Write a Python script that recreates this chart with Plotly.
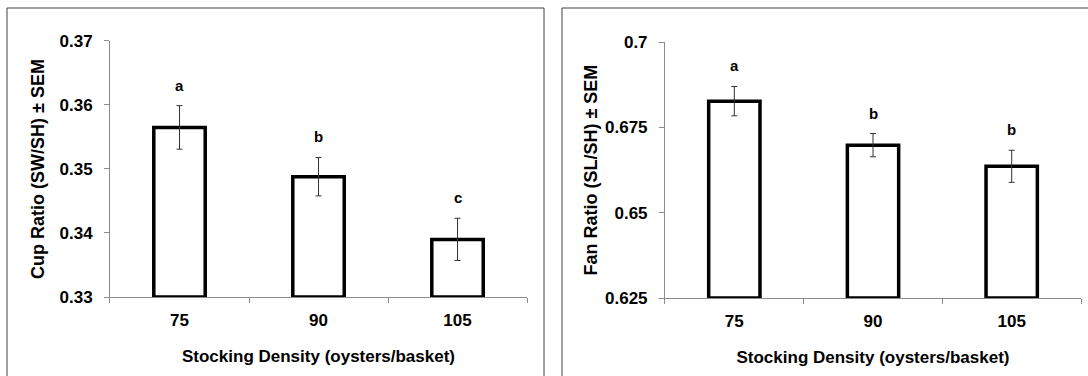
import plotly.graph_objects as go

categories = ["75", "90", "105"]

cup_ratio = [0.3565, 0.3488, 0.3390]
cup_sem = [0.0034, 0.0030, 0.0033]
cup_letters = ["a", "b", "c"]

fan_ratio = [0.6827, 0.6698, 0.6636]
fan_sem = [0.0043, 0.0034, 0.0047]
fan_letters = ["a", "b", "b"]

cup_ticks = [0.33, 0.34, 0.35, 0.36, 0.37]
cup_ticktext = ["0.33", "0.34", "0.35", "0.36", "0.37"]
fan_ticks = [0.625, 0.65, 0.675, 0.7]
fan_ticktext = ["0.625", "0.65", "0.675", "0.7"]

FONT = "Arial, 'Liberation Sans', sans-serif"
AXIS_GREY = "#8c8c8c"

fig = go.Figure()

fig.add_trace(go.Bar(
    x=categories, y=[v - cup_ticks[0] for v in cup_ratio], base=cup_ticks[0],
    marker=dict(color="white", line=dict(color="black", width=3.5)),
    width=0.37,
    error_y=dict(type="data", array=cup_sem, thickness=1, width=3, color="#333333"),
    xaxis="x", yaxis="y", showlegend=False,
))
fig.add_trace(go.Bar(
    x=categories, y=[v - fan_ticks[0] for v in fan_ratio], base=fan_ticks[0],
    marker=dict(color="white", line=dict(color="black", width=3.5)),
    width=0.37,
    error_y=dict(type="data", array=fan_sem, thickness=1, width=3, color="#333333"),
    xaxis="x2", yaxis="y2", showlegend=False,
))

annotations = []
for i, (v, s, t) in enumerate(zip(cup_ratio, cup_sem, cup_letters)):
    annotations.append(dict(x=i, y=v + s, xref="x", yref="y", text=t, showarrow=False,
                            yanchor="bottom", yshift=10,
                            font=dict(family=FONT, size=15, color="black", weight="bold")))
for i, (v, s, t) in enumerate(zip(fan_ratio, fan_sem, fan_letters)):
    annotations.append(dict(x=i, y=v + s, xref="x2", yref="y2", text=t, showarrow=False,
                            yanchor="bottom", yshift=10,
                            font=dict(family=FONT, size=15, color="black", weight="bold")))

tickfont = dict(family=FONT, size=17, color="black", weight="bold")
titlefont = dict(family=FONT, size=17, color="black", weight="bold")

xcommon = dict(type="category", categoryorder="array", categoryarray=categories,
               range=[-0.5, len(categories) - 0.5], tickangle=0, automargin=False,
               tickson="boundaries", ticks="outside", ticklen=5,
               tickcolor=AXIS_GREY, showline=True, linecolor=AXIS_GREY, linewidth=1,
               showgrid=False, tickfont=tickfont, ticklabelstandoff=8,
               title=dict(text="Stocking Density (oysters/basket)", font=titlefont, standoff=20))

fig.update_layout(
    width=1088, height=376,
    margin=dict(l=0, r=0, t=0, b=0, autoexpand=False),
    paper_bgcolor="white", plot_bgcolor="white",
    xaxis=dict(domain=[0.1011, 0.4844], anchor="y", **xcommon),
    xaxis2=dict(domain=[0.6112, 0.9936], anchor="y2", **xcommon),
    yaxis=dict(domain=[0.2101, 0.891], anchor="x", range=[cup_ticks[0], cup_ticks[-1]],
               tickvals=cup_ticks, ticktext=cup_ticktext, ticks="outside", ticklen=5,
               tickcolor=AXIS_GREY, showline=True, linecolor=AXIS_GREY, showgrid=False,
               zeroline=False, tickfont=tickfont, ticklabelstandoff=8, automargin=False,
               title=dict(text="Cup Ratio (SW/SH) ± SEM", font=dict(family=FONT, size=18, color="black", weight="bold"), standoff=10)),
    yaxis2=dict(domain=[0.2074, 0.888], anchor="x2", range=[fan_ticks[0], fan_ticks[-1]],
                tickvals=fan_ticks, ticktext=fan_ticktext, ticks="outside", ticklen=5,
                tickcolor=AXIS_GREY, showline=True, linecolor=AXIS_GREY, showgrid=False,
                zeroline=False, tickfont=tickfont, ticklabelstandoff=8, automargin=False,
                title=dict(text="Fan Ratio (SL/SH) ± SEM", font=dict(family=FONT, size=18, color="black", weight="bold"), standoff=2)),
    annotations=annotations,
    shapes=[
        dict(type="rect", xref="paper", yref="paper", x0=7/1088, x1=544/1088, y0=-0.05, y1=1 - 8/376,
             line=dict(color="#404040", width=1), fillcolor="rgba(0,0,0,0)", layer="below"),
        dict(type="rect", xref="paper", yref="paper", x0=562/1088, x1=1.05, y0=-0.05, y1=1 - 8/376,
             line=dict(color="#404040", width=1), fillcolor="rgba(0,0,0,0)", layer="below"),
    ],
)

fig.write_html("out.html")
